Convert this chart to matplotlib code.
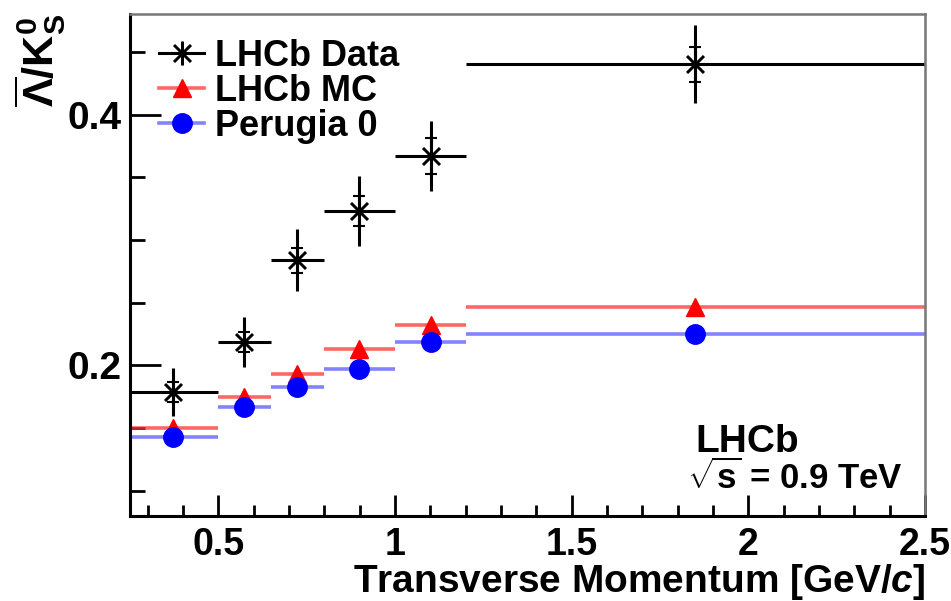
import matplotlib
matplotlib.use("Agg")
import matplotlib.pyplot as plt
from matplotlib.lines import Line2D
from matplotlib.ticker import MultipleLocator
import numpy as np

plt.rcParams['font.family'] = ['Liberation Sans', 'DejaVu Sans']
plt.rcParams['font.weight'] = 'bold'
plt.rcParams['axes.labelweight'] = 'bold'
plt.rcParams['mathtext.fontset'] = 'custom'
plt.rcParams['mathtext.rm'] = 'Liberation Sans:bold'
plt.rcParams['mathtext.bf'] = 'Liberation Sans:bold'
plt.rcParams['mathtext.it'] = 'Liberation Sans:bold:italic'
plt.rcParams['mathtext.sf'] = 'Liberation Sans:bold'

# pT bins and mean pT per bin
bin_edges = [0.25, 0.5, 0.65, 0.8, 1.0, 1.2, 2.5]
pt_mean = [0.372, 0.574, 0.724, 0.898, 1.102, 1.85]

# LHCb data: ratio, total error, statistical error
data_y = [0.179, 0.219, 0.284, 0.323, 0.367, 0.440]
data_err = [0.019, 0.020, 0.025, 0.028, 0.028, 0.031]
data_stat = [0.008, 0.008, 0.010, 0.012, 0.014, 0.014]

# simulation
mc_y = [0.150, 0.175, 0.193, 0.2135, 0.2325, 0.247]
perugia_y = [0.143, 0.167, 0.183, 0.197, 0.219, 0.2254]

edges = np.array(bin_edges)
xc = np.array(pt_mean)
xerr = [xc - edges[:-1], edges[1:] - xc]

fig = plt.figure(figsize=(9.51, 6.01), dpi=100)
ax = fig.add_axes([0.1367, 0.1414, 0.836, 0.835])

red_line = (1.0, 0.2, 0.2, 0.75)
blue_line = (0.35, 0.35, 1.0, 0.75)

ax.errorbar(xc, mc_y, xerr=xerr, fmt='none', ecolor=red_line, elinewidth=2.6, capsize=0)
ax.plot(xc, mc_y, ls='none', marker='^', color='red', ms=13)
ax.errorbar(xc, perugia_y, xerr=xerr, fmt='none', ecolor=blue_line, elinewidth=2.6, capsize=0)
ax.plot(xc, perugia_y, ls='none', marker='o', color='blue', ms=14)

ax.errorbar(xc, data_y, xerr=xerr, yerr=data_err, fmt='none', ecolor='black',
            elinewidth=2.2, capsize=0)
ax.errorbar(xc, data_y, yerr=data_stat, fmt='none', ecolor='black',
            elinewidth=2.2, capsize=4, capthick=1.5)
ax.plot(xc, data_y, ls='none', marker=(8, 2, 0), color='black', ms=17, mew=1.8)

ax.set_xlim(0.25, 2.5)
ax.set_ylim(0.08, 0.48)
ax.xaxis.set_minor_locator(MultipleLocator(0.1))
ax.yaxis.set_minor_locator(MultipleLocator(0.05))
ax.set_xticks([0.5, 1, 1.5, 2, 2.5])
ax.set_xticklabels(['0.5', '1', '1.5', '2', '2.5'])
ax.set_yticks([0.2, 0.4])
ax.set_yticklabels(['0.2', '0.4'])

ax.tick_params(axis='both', which='both', direction='in', width=2, color='black')
ax.tick_params(axis='x', which='major', length=15, pad=8, labelsize=27)
ax.tick_params(axis='x', which='minor', length=8)
ax.tick_params(axis='y', which='major', length=22, pad=6, labelsize=28)
ax.tick_params(axis='y', which='minor', length=11)

for side in ['left', 'bottom']:
    ax.spines[side].set_linewidth(2.2)
    ax.spines[side].set_color('black')
for side in ['top', 'right']:
    ax.spines[side].set_linewidth(1.8)
    ax.spines[side].set_color('#777777')

ax.set_xlabel(r'Transverse Momentum [GeV/$c$]', fontsize=28, fontweight='bold',
              loc='right', labelpad=-1)
fig.text(0.042, 0.977, r'$\overline{\Lambda}/\mathrm{K}^{0}_{\mathrm{S}}$', rotation=90,
         ha='center', va='top', fontsize=31)

handles = [
    Line2D([], [], color='black', lw=2.2, marker=(8, 2, 0), ms=17, mew=1.8),
    Line2D([], [], color=red_line, lw=2.6, marker='^', mfc='red', mec='red', ms=13),
    Line2D([], [], color=blue_line, lw=2.6, marker='o', mfc='blue', mec='blue', ms=14),
]
ax.legend(handles, ['LHCb Data', 'LHCb MC', 'Perugia 0'], loc='upper left',
          bbox_to_anchor=(159 / 951, 1 - 39 / 601), bbox_transform=fig.transFigure,
          frameon=False, fontsize=26, borderpad=0, borderaxespad=0,
          handlelength=1.25, handletextpad=0.3, labelspacing=0.0)

fig.text(695 / 951, 1 - 452 / 601, 'LHCb', fontsize=28, ha='left', va='baseline')
fig.text(687 / 951, 1 - 489 / 601, r'$\sqrt{\mathrm{s}}$ = 0.9 TeV', fontsize=25,
         ha='left', va='baseline')

fig.savefig('out.png', dpi=100)
